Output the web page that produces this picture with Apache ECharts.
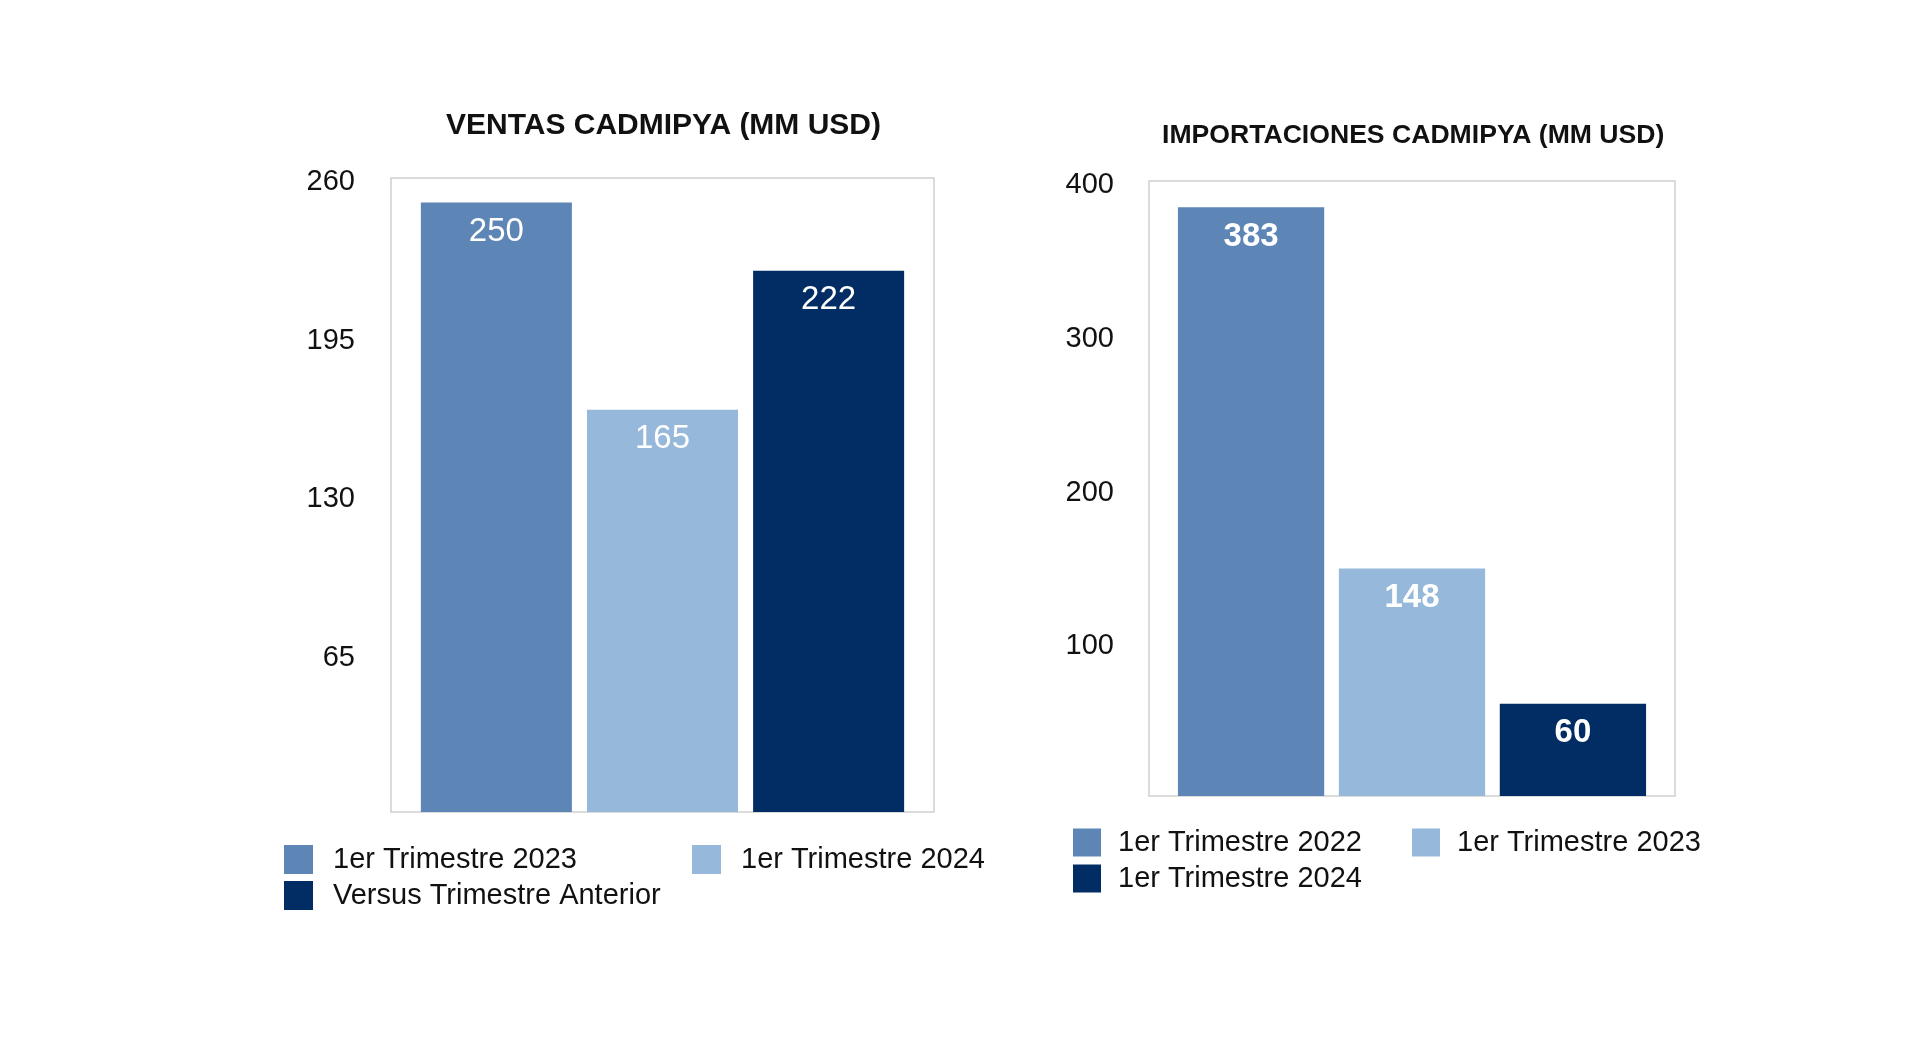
<!DOCTYPE html>
<html>
<head>
<meta charset="utf-8">
<script src="https://cdn.jsdelivr.net/npm/echarts@6/dist/echarts.min.js"></script>
<style>
  html, body { margin: 0; padding: 0; background: #fff; width: 1920px; height: 1058px; overflow: hidden; }
  #left { position: absolute; left: 0; top: 0; width: 1000px; height: 1058px; }
  #right { position: absolute; left: 1000px; top: 0; width: 920px; height: 1058px; }
</style>
</head>
<body>
<div id="left"></div>
<div id="right"></div>
<script>
// ---- Data ----
const ventasTitle = 'VENTAS CADMIPYA (MM USD)';
const ventasSeries = ['1er Trimestre 2023', '1er Trimestre 2024', 'Versus Trimestre Anterior'];
const ventasValues = [250, 165, 222];
const ventasAxis = { min: 0, max: 260, interval: 65 };

const importTitle = 'IMPORTACIONES CADMIPYA (MM USD)';
const importSeries = ['1er Trimestre 2022', '1er Trimestre 2023', '1er Trimestre 2024'];
const importValues = [383, 148, 60];
const importAxis = { min: 0, max: 400, interval: 100 };

const palette = ['#5D85B6', '#96B8DB', '#022D64'];
const FONT = '"Liberation Sans", Arial, Helvetica, sans-serif';

function buildOption(cfg) {
  const legends = cfg.names.map((n, i) => ({
    data: [n],
    left: cfg.legendPos[i][0],
    top: cfg.legendPos[i][1],
    itemWidth: cfg.legendIcon,
    itemHeight: cfg.legendIcon,
    icon: 'rect',
    selectedMode: false,
    textStyle: { fontFamily: FONT, fontSize: 29, color: '#111', padding: [0, 0, 0, cfg.legendTextPad] }
  }));
  return {
    animation: false,
    color: palette,
    title: {
      text: cfg.title,
      left: cfg.titleLeft,
      top: cfg.titleTop,
      textStyle: { fontFamily: FONT, fontSize: cfg.titleSize, fontWeight: 'bold', color: '#111' }
    },
    legend: legends,
    grid: {
      left: cfg.grid[0], top: cfg.grid[1], width: cfg.grid[2], height: cfg.grid[3],
      show: true, borderColor: '#cfcfcf', borderWidth: 1.5, backgroundColor: '#fff', containLabel: false
    },
    xAxis: {
      type: 'category', data: [''],
      axisLine: { show: false }, axisTick: { show: false }, axisLabel: { show: false }, splitLine: { show: false }
    },
    yAxis: {
      type: 'value', min: cfg.axis.min, max: cfg.axis.max, interval: cfg.axis.interval,
      axisLine: { show: false }, axisTick: { show: false }, splitLine: { show: false },
      axisLabel: {
        showMinLabel: false, margin: cfg.labelMargin,
        fontFamily: FONT, fontSize: 29, color: '#111',
        formatter: v => (v === 0 ? '' : '{v|' + v + '}'),
        rich: { v: { fontFamily: FONT, fontSize: 29, color: '#111', padding: [8, 0, 0, 0] } }
      }
    },
    series: cfg.names.map((n, i) => ({
      name: n, type: 'bar', data: [cfg.values[i]],
      barGap: '10%', barCategoryGap: '11%',
      itemStyle: { color: palette[i] },
      label: {
        show: true, position: 'insideTop', distance: 13,
        fontFamily: FONT, fontSize: 33, fontWeight: cfg.labelWeight, color: '#fff'
      }
    }))
  };
}

const leftChart = echarts.init(document.getElementById('left'), null, { renderer: 'canvas' });
leftChart.setOption(buildOption({
  title: ventasTitle, titleLeft: 441, titleTop: 106, titleSize: 30,
  names: ventasSeries, values: ventasValues, axis: ventasAxis,
  grid: [391, 178, 543, 634], labelMargin: 36, labelWeight: 'normal',
  legendPos: [[279, 840], [687, 840], [279, 876]], legendIcon: 29, legendTextPad: 15
}));

const rightChart = echarts.init(document.getElementById('right'), null, { renderer: 'canvas' });
rightChart.setOption(buildOption({
  title: importTitle, titleLeft: 157, titleTop: 117, titleSize: 26.6,
  names: importSeries, values: importValues, axis: importAxis,
  grid: [149, 181, 526, 615], labelMargin: 35, labelWeight: 'bold',
  legendPos: [[68, 823], [407, 823], [68, 859]], legendIcon: 28, legendTextPad: 12
}));
</script>
</body>
</html>
